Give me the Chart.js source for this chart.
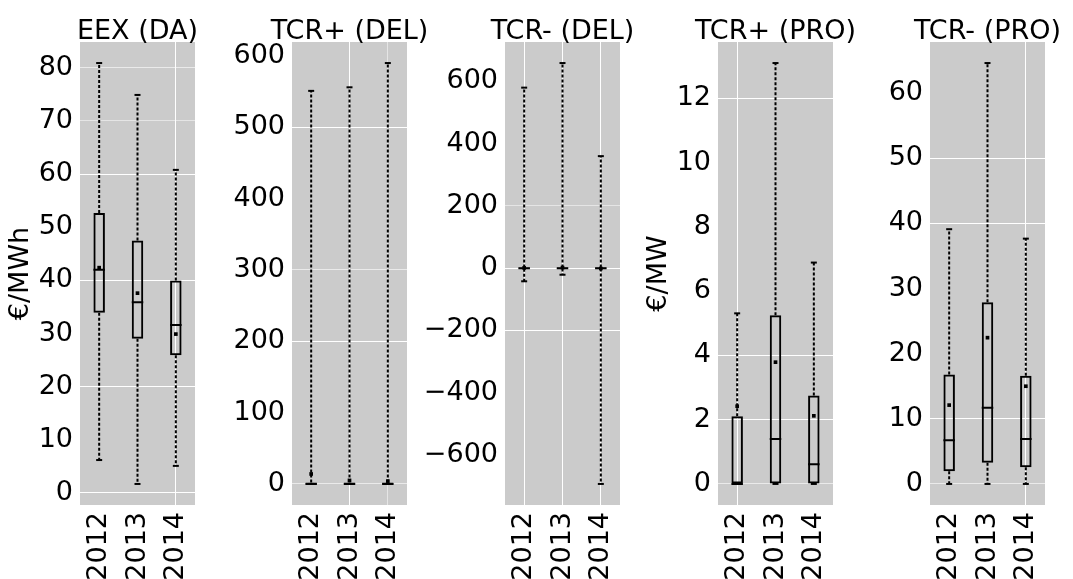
<!DOCTYPE html>
<html><head><meta charset="utf-8">
<script src="https://cdn.jsdelivr.net/npm/chart.js@4/dist/chart.umd.min.js"></script>
<style>
html,body{margin:0;padding:0;background:#fff;overflow:hidden;width:1073px;height:579px;position:relative;}
canvas{position:absolute;top:0;}
</style></head><body>
<script>
// ---------- data ----------
const years = ['2012', '2013', '2014'];
const titles = ['EEX (DA)', 'TCR+ (DEL)', 'TCR- (DEL)', 'TCR+ (PRO)', 'TCR- (PRO)'];
const yLabels = ['€/MWh', '', '', '€/MW', ''];
const yStep = [10, 100, 200, 2, 10];

// EEX (DA)
const eexMin  = [6.2, 1.7, 5.1];
const eexQ1   = [33.9, 29.0, 25.9];
const eexMed  = [42.0, 35.9, 31.6];
const eexQ3   = [52.7, 47.5, 40.0];
const eexMax  = [80.9, 74.9, 60.8];
const eexMean = [42.4, 37.6, 29.9];

// TCR+ (DEL)
const tpdMin  = [0, 0, 0];
const tpdQ1   = [0, 0, 0];
const tpdMed  = [0, 0, 0];
const tpdQ3   = [2, 2, 2];
const tpdMax  = [551, 556, 590];
const tpdMean = [14, 5, 4];

// TCR- (DEL)
const tmdMin  = [-42, -21, -693];
const tmdQ1   = [-2, -1, -1];
const tmdMed  = [0, 0, 0];
const tmdQ3   = [2, 2, 2];
const tmdMax  = [580, 659, 360];
const tmdMean = [1, 2, -1];

// TCR+ (PRO)
const tppMin  = [0, 0, 0];
const tppQ1   = [0, 0, 0];
const tppMed  = [0, 1.40, 0.61];
const tppQ3   = [2.11, 5.25, 2.75];
const tppMax  = [5.31, 13.1, 6.89];
const tppMean = [2.42, 3.79, 2.12];

// TCR- (PRO)
const tmpMin  = [0, 0, 0];
const tmpQ1   = [1.94, 3.27, 2.55];
const tmpMed  = [6.7, 11.7, 6.9];
const tmpQ3   = [16.8, 27.9, 16.6];
const tmpMax  = [39.1, 64.6, 37.65];
const tmpMean = [12.1, 22.45, 15.0];

const panels = [
  {min: eexMin, q1: eexQ1, med: eexMed, q3: eexQ3, max: eexMax, mean: eexMean},
  {min: tpdMin, q1: tpdQ1, med: tpdMed, q3: tpdQ3, max: tpdMax, mean: tpdMean},
  {min: tmdMin, q1: tmdQ1, med: tmdMed, q3: tmdQ3, max: tmdMax, mean: tmdMean},
  {min: tppMin, q1: tppQ1, med: tppMed, q3: tppQ3, max: tppMax, mean: tppMean},
  {min: tmpMin, q1: tmpQ1, med: tmpMed, q3: tmpQ3, max: tmpMax, mean: tmpMean}
];

// ---------- style ----------
const plotLeft = [80, 292, 505, 718, 930];
const vGrid = [[0, 0, 1], [0, 1, 0.5], [1, 1, 1], [1, 0, 0], [0, 0, 1]];
const hGrid = [
  {0: 1, 20: 1, 40: 1, 60: 1, 70: 0.5, 80: 0.6},
  {0: 0.6, 200: 1, 300: 0.6, 500: 1},
  {'-200': 1, 0: 1, 200: 0.5},
  {0: 0.6, 2: 1, 4: 1, 12: 1},
  {0: 0.6, 10: 1, 40: 1, 50: 1}
];
const FONT = "'DejaVu Sans'";
Chart.defaults.font.family = FONT;
Chart.defaults.color = '#000';

const bgPlugin = {
  id: 'plotBg',
  beforeDraw(chart) {
    const {ctx, chartArea: a} = chart;
    ctx.save();
    ctx.fillStyle = '#cbcbcb';
    ctx.fillRect(a.left, a.top, a.right - a.left, a.bottom - a.top);
    ctx.restore();
  }
};
const titlePlugin = {
  id: 'panelTitle',
  afterDraw(chart, args, opts) {
    const {ctx, chartArea: a} = chart;
    ctx.save();
    ctx.font = '27px ' + FONT;
    ctx.fillStyle = '#000';
    ctx.textAlign = 'center';
    ctx.textBaseline = 'alphabetic';
    ctx.fillText(opts.text, (a.left + a.right) / 2, 39);
    ctx.restore();
  }
};

panels.forEach((p, k) => {
  const cv = document.createElement('canvas');
  cv.width = 235; cv.height = 579;
  cv.style.left = (plotLeft[k] - 80) + 'px';
  document.body.appendChild(cv);

  const lo = Math.min(...p.min), hi = Math.max(...p.max);
  const pad = (hi - lo) * 0.05;

  const whisk = [];
  years.forEach((y, i) => {
    whisk.push({x: y, y: p.q3[i]}, {x: y, y: p.max[i]}, {x: y, y: null});
    whisk.push({x: y, y: p.q1[i]}, {x: y, y: p.min[i]}, {x: y, y: null});
  });
  const caps = [];
  years.forEach((y, i) => { caps.push({x: y, y: p.min[i]}, {x: y, y: p.max[i]}); });

  new Chart(cv, {
    type: 'bar',
    data: {
      labels: years,
      datasets: [
        {type: 'line', data: years.map((y, i) => ({x: y, y: p.mean[i]})), showLine: false,
         pointStyle: 'rect', pointRadius: 2.6, pointBackgroundColor: '#000', pointBorderWidth: 0},
        {type: 'line', data: years.map((y, i) => ({x: y, y: p.med[i]})), showLine: false,
         pointStyle: 'line', pointRadius: 5.75, pointBorderColor: '#000', pointBorderWidth: 2},
        {type: 'line', data: caps, showLine: false,
         pointStyle: 'line', pointRadius: 3, pointBorderColor: '#000', pointBorderWidth: 2},
        {type: 'bar', data: years.map((y, i) => [p.q1[i], p.q3[i]]),
         backgroundColor: 'rgba(0,0,0,0)', borderColor: '#000', borderWidth: 2, borderSkipped: false,
         barPercentage: 0.3, categoryPercentage: 1},
        {type: 'line', data: whisk, borderColor: '#000', borderWidth: 2, borderDash: [3, 2],
         pointRadius: 0, spanGaps: false, fill: false}
      ]
    },
    options: {
      responsive: false, animation: false, events: [],
      layout: {padding: {top: 42, left: 0, right: 40, bottom: 0}},
      plugins: {legend: {display: false}, tooltip: {enabled: false}, panelTitle: {text: titles[k]}},
      scales: {
        x: {
          type: 'category', offset: true,
          grid: {offset: false, drawTicks: false, lineWidth: 1,
                 color: c => 'rgba(255,255,255,' + (vGrid[k][c.index] || 0) + ')'},
          border: {display: false},
          ticks: {font: {size: 27}, color: '#000', maxRotation: 90, minRotation: 90, padding: 7, autoSkip: false},
          afterFit: s => { s.height = 74; }
        },
        y: {
          type: 'linear', min: lo - pad, max: hi + pad,
          ticks: {stepSize: yStep[k], includeBounds: false, font: {size: 27}, color: '#000', padding: 7,
                  callback: v => String(Math.round(v)).replace('-', '\u2212')},
          grid: {drawTicks: false, lineWidth: 1,
                 color: c => 'rgba(255,255,255,' + ((c.tick && hGrid[k][Math.round(c.tick.value)]) || 0) + ')'},
          border: {display: false},
          title: {display: !!yLabels[k], text: yLabels[k], font: {size: 27}, color: '#000', padding: {top: 5, bottom: 0}},
          afterFit: s => { s.width = 80; }
        }
      }
    },
    plugins: [bgPlugin, titlePlugin]
  });
});
</script>
</body></html>
